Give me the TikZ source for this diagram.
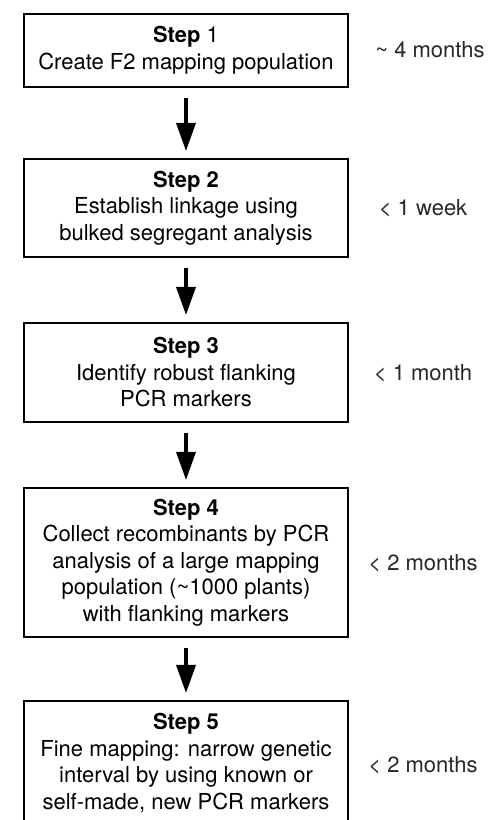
\documentclass[tikz,border=0pt]{standalone}
\usepackage{fontspec}
\setmainfont{TeX Gyre Heros}
\usetikzlibrary{arrows.meta}
\tikzset{
  stepbox/.style={draw=black, line width=2pt, fill=white, minimum width=324pt, inner sep=0pt, outer sep=0pt, align=center, font=\fontsize{22}{26.5}\selectfont},
  timelabel/.style={inner sep=0pt, font=\fontsize{22}{26.5}\selectfont, text=black!85},
  flowarrow/.style={line width=3.5pt, -{Triangle[length=28pt,width=19pt]}, shorten <=11pt, shorten >=8pt}
}
\begin{document}
\begin{tikzpicture}[x=1pt,y=1pt]
\clip (0,0) rectangle (489,820);
\useasboundingbox (0,0) rectangle (489,820);
\node[stepbox, minimum height=73pt] (b1) at (186,769.5) {\textbf{Step} 1\\Create F2 mapping population};
\node[stepbox, minimum height=98pt] (b2) at (186,612) {\textbf{Step 2}\\Establish linkage using\\bulked segregant analysis};
\node[stepbox, minimum height=99pt] (b3) at (186,447.5) {\textbf{Step 3}\\Identify robust flanking\\PCR markers};
\node[stepbox, minimum height=149pt] (b4) at (186,257.5) {\textbf{Step 4}\\Collect recombinants by PCR\\analysis of a large mapping\\population (\textasciitilde1000 plants)\\with flanking markers};
\node[stepbox, minimum height=124pt] (b5) at (186,57) {\textbf{Step 5}\\Fine mapping: narrow genetic\\interval by using known or\\self-made, new PCR markers};
\node[timelabel] (t1) at (430,770) {\textasciitilde{} 4 months};
\node[timelabel] (t2) at (423,612) {< 1 week};
\node[timelabel] (t3) at (423,447) {< 1 month};
\node[timelabel] (t4) at (423,257) {< 2 months};
\node[timelabel] (t5) at (423,55) {< 2 months};
\draw[flowarrow] (b1.south) -- (b2.north);
\draw[flowarrow] (b2.south) -- (b3.north);
\draw[flowarrow] (b3.south) -- (b4.north);
\draw[flowarrow] (b4.south) -- (b5.north);
\end{tikzpicture}
\end{document}
